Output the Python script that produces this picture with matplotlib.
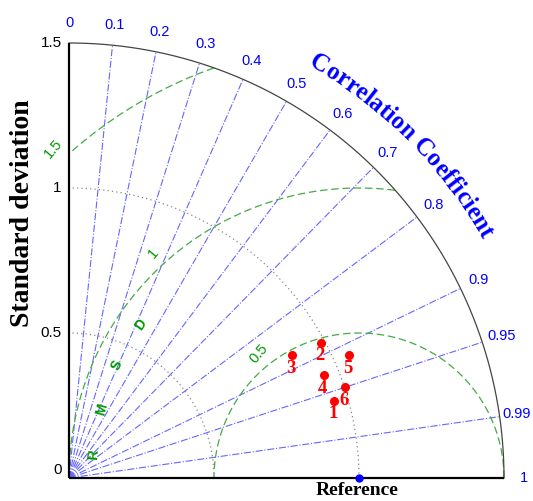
import numpy as np
import matplotlib
matplotlib.use("Agg")
import matplotlib.pyplot as plt

# ---- data ----
model_ids = ["1", "2", "3", "4", "5", "6"]
model_std = [0.952, 0.986, 0.878, 0.947, 1.055, 1.003]
model_corr = [0.960, 0.881, 0.876, 0.927, 0.916, 0.950]
ref_std = 1.0
corr_ticks = [0.1, 0.2, 0.3, 0.4, 0.5, 0.6, 0.7, 0.8, 0.9, 0.95, 0.99]
corr_labels = ["0", "0.1", "0.2", "0.3", "0.4", "0.5", "0.6", "0.7", "0.8", "0.9", "0.95", "0.99", "1"]
corr_label_vals = [0.0, 0.1, 0.2, 0.3, 0.4, 0.5, 0.6, 0.7, 0.8, 0.9, 0.95, 0.99, 1.0]
std_ticks = [0.5, 1.0, 1.5]
std_tick_labels = ["0", "0.5", "1", "1.5"]
rmsd_levels = [0.5, 1.0, 1.5]
rmsd_labels = ["0.5", "1", "1.5"]
max_std = 1.5

W, H, DPI = 533, 501, 100
fig = plt.figure(figsize=(W / DPI, H / DPI), dpi=DPI)
ax = fig.add_axes([0, 0, 1, 1])
scale = 290.0
ox, oy = 69.0, 478.0
ax.set_xlim(-ox / scale, (W - ox) / scale)
ax.set_ylim(-(H - oy) / scale, oy / scale)
ax.set_aspect("equal")
ax.axis("off")

blue = "#0000ff"
green = "#009900"
sans = "Liberation Sans"

# correlation lines
for c in corr_ticks:
    th = np.arccos(c)
    ax.plot([0, max_std * np.cos(th)], [0, max_std * np.sin(th)],
            ls="-.", color="#6666ff", lw=0.8, zorder=1)

# correlation labels
for c, lab in zip(corr_label_vals, corr_labels):
    th = np.arccos(c)
    r = 1.57
    x, y = r * np.cos(th), r * np.sin(th)
    if lab == "0.99":
        x -= 0.012
    ax.text(x, y, lab, color=blue, fontsize=10.5,
            ha="center", va="center", family=sans)

# std dotted arcs
t = np.linspace(0, np.pi / 2, 300)
for s in std_ticks[:-1]:
    ax.plot(s * np.cos(t), s * np.sin(t), ls=(0, (1, 2.5)), color="#888888", lw=0.9, zorder=1)
# outer arc
ax.plot(max_std * np.cos(t), max_std * np.sin(t), color="#444444", lw=0.9, zorder=2)

# RMSD circles (clipped to inside the quarter disk)
phi = np.linspace(0, np.pi, 800)
for rl in rmsd_levels:
    x = ref_std + rl * np.cos(phi)
    y = rl * np.sin(phi)
    mask = (x >= 0) & (np.hypot(x, y) <= max_std + 1e-9)
    x = np.where(mask, x, np.nan)
    y = np.where(mask, y, np.nan)
    ax.plot(x, y, ls=(0, (6, 3)), color="#44aa44", lw=0.9, zorder=1)

# RMSD labels
for rl, lab, a in zip(rmsd_levels, rmsd_labels, [128.7, 132.5, 132.8]):
    ang = np.deg2rad(a)
    rr = rl + 0.05
    ax.text(ref_std + rr * np.cos(ang), rr * np.sin(ang), lab, color=green, fontsize=10.5,
            rotation=50, ha="center", va="center", family=sans)

# "RMSD" letters along circle
for ch, a in zip("RMSD", [175, 165, 155, 145]):
    ar = np.deg2rad(a)
    rr = 0.92
    ax.text(ref_std + rr * np.cos(ar), rr * np.sin(ar), ch, color=green, fontsize=10,
            fontweight="bold", rotation=a - 90, ha="center", va="center",
            rotation_mode="anchor", family=sans)

# axes lines
ax.plot([0, 0], [0, max_std], color="black", lw=1.6, zorder=3, solid_capstyle="butt")
ax.plot([0, max_std], [0, 0], color="black", lw=1.6, zorder=3, solid_capstyle="butt")

# std tick labels
ax.text(-0.025, 0.027, std_tick_labels[0], ha="right", va="center", fontsize=11, family=sans)
for s, lab in zip(std_ticks, std_tick_labels[1:]):
    ax.text(-0.025, s, lab, ha="right", va="center", fontsize=11, family=sans)

# axis titles
ax.text(-0.160, 0.914, "Standard deviation", rotation=90, ha="center", va="center",
        fontsize=20, fontweight="bold", family="Liberation Serif")
ax.text(0.993, -0.043, "Reference", ha="center", va="center",
        fontsize=14, fontweight="bold", family="Liberation Serif")

# curved "Correlation Coefficient"
title = "Correlation Coefficient"
fs = 18
fig.canvas.draw()
renderer = fig.canvas.get_renderer()
widths = []
for ch in title:
    tt = ax.text(0, 0, ch if ch != " " else "n", fontsize=fs, fontweight="bold", family="Liberation Serif")
    bb = tt.get_window_extent(renderer=renderer)
    w = bb.width if ch != " " else bb.width * 0.5
    widths.append(w / scale)
    tt.remove()
R = 1.645
total = sum(widths)
center_ang = np.deg2rad(45.0)
start = center_ang + (total / 2) / R
pos = 0.0
for ch, w in zip(title, widths):
    a = start - (pos + w / 2) / R
    pos += w
    if ch == " ":
        continue
    ax.text(R * np.cos(a), R * np.sin(a), ch, fontsize=fs, fontweight="bold",
            family="Liberation Serif", color=blue, rotation=np.rad2deg(a) - 90,
            rotation_mode="anchor", ha="center", va="baseline")

# reference point
ax.plot([ref_std], [0], "o", color=blue, ms=5, zorder=5, clip_on=False)

# model points
for lab, s, c in zip(model_ids, model_std, model_corr):
    th = np.arccos(c)
    x, y = s * np.cos(th), s * np.sin(th)
    ax.plot([x], [y], "o", color="red", ms=5.5, zorder=6)
    ax.text(x - 0.004, y - 0.045, lab, color="red", fontsize=13.5, fontweight="bold",
            family="Liberation Serif", ha="center", va="center", zorder=6)

fig.savefig("out.png", dpi=DPI)
